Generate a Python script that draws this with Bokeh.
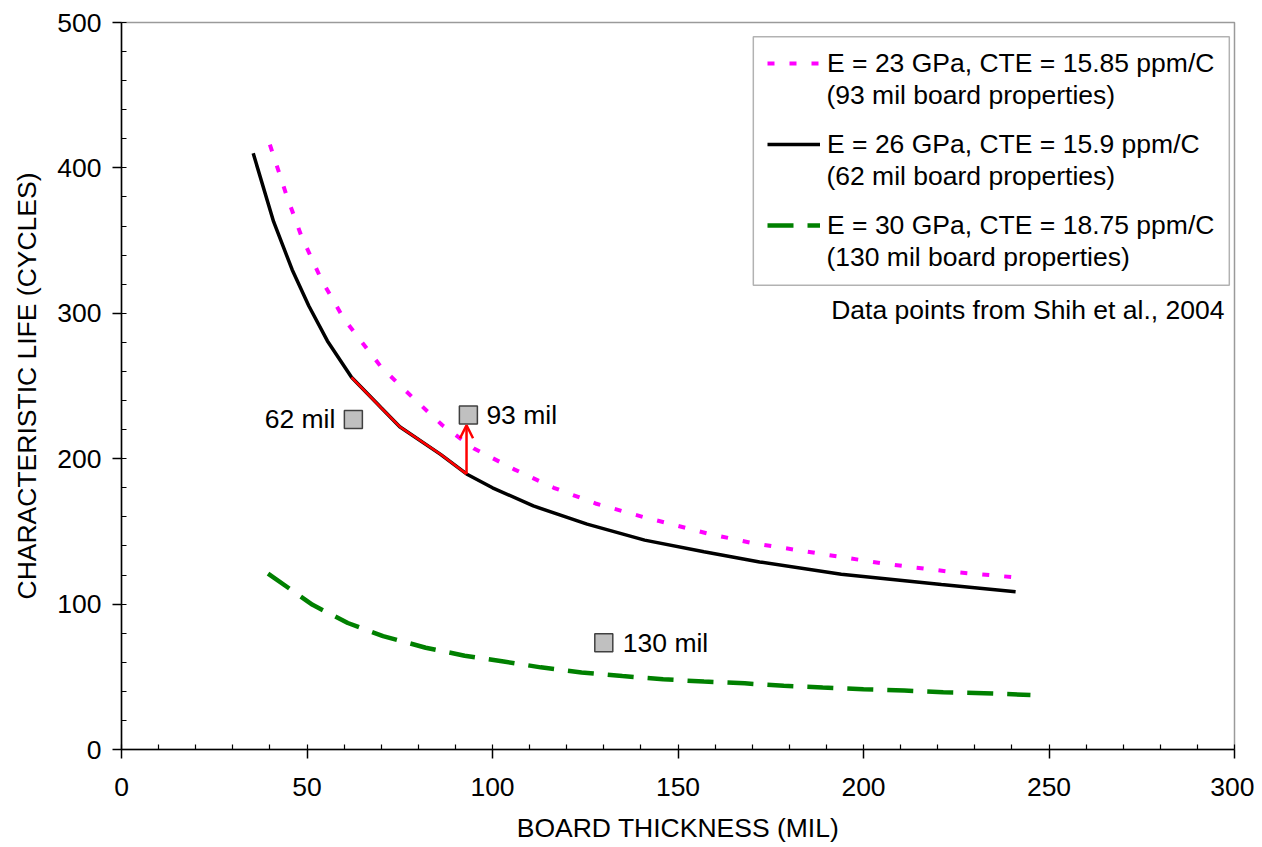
from bokeh.plotting import figure
from bokeh.models import (Range1d, FixedTicker, Legend, LegendItem, Arrow, OpenHead,
                          Label, ColumnDataSource, BoxAnnotation)
from bokeh.embed import file_html
from bokeh.resources import INLINE
from bokeh.core.properties import value

# ---- data ----
black_x = [35.5, 41, 46, 50.5, 55.5, 62, 70, 75, 86, 93, 100, 111, 125.5, 141, 157, 172, 194, 221, 241]
black_y = [410, 363, 330, 305, 281, 256, 235, 222, 203, 189.5, 180, 167.5, 155, 144, 136, 129, 120.5, 113.5, 108.5]

magenta_x = [40, 44.5, 48.5, 54, 60, 70, 78.5, 86.5, 95, 106, 116.5, 128, 140.5, 158, 170, 187.5, 205, 222.5, 240.5]
magenta_y = [416, 381, 353, 322.5, 296, 263, 242, 223, 207, 192.5, 180, 169, 160, 148.5, 142, 135, 128, 122.5, 118.5]

green_x = [39.5, 51.5, 61, 70.5, 82, 92.5, 103, 113, 124, 135, 146, 157, 168, 178.5, 189, 200, 211, 221.5, 232.5, 245]
green_y = [121, 99.5, 87, 78, 70, 64.5, 60.5, 56.5, 53, 50.5, 48.3, 46.7, 45.5, 43.8, 42.6, 41.4, 40.5, 39.4, 38.7, 37.5]

red_x = [62, 70, 75, 86, 93]
red_y = [256, 235, 222, 203, 189.5]

arrow_x = [93, 93]
arrow_y = [189.5, 223]

point_x = [62.5, 93.5, 130]
point_y = [227, 230, 73.5]
point_labels = ["62 mil", "93 mil", "130 mil"]
label_align = ["right", "left", "left"]
label_dx = [-18, 18, 19]

legend_first_lines = [
    "E = 23 GPa, CTE = 15.85 ppm/C",
    "E = 26 GPa, CTE = 15.9 ppm/C",
    "E = 30 GPa, CTE = 18.75 ppm/C",
]
legend_second_lines = [
    "(93 mil board properties)",
    "(62 mil board properties)",
    "(130 mil board properties)",
]
source_note = "Data points from Shih et al., 2004"

x_major = [0, 50, 100, 150, 200, 250, 300]
x_minor = list(range(0, 301, 10))
y_major = [0, 100, 200, 300, 400, 500]
y_minor = list(range(0, 501, 20))

FONT = "Liberation Sans"
FS = "26.5px"

p = figure(frame_width=1113, frame_height=727,
           x_range=Range1d(0, 300), y_range=Range1d(0, 500),
           output_backend="svg", toolbar_location=None,
           min_border_left=121, min_border_right=20, min_border_top=22, min_border_bottom=98)
p.background_fill_color = "white"
p.border_fill_color = "white"
p.outline_line_color = "#9a9a9a"
p.outline_line_width = 1.5
p.xgrid.visible = False
p.ygrid.visible = False

p.xaxis.ticker = FixedTicker(ticks=x_major, minor_ticks=x_minor)
p.yaxis.ticker = FixedTicker(ticks=y_major, minor_ticks=y_minor)
p.xaxis.axis_label = "BOARD THICKNESS (MIL)"
p.yaxis.axis_label = "CHARACTERISTIC LIFE (CYCLES)"
for ax in (p.xaxis[0], p.yaxis[0]):
    ax.axis_line_color = "black"
    ax.axis_line_width = 1.5
    ax.major_tick_line_color = "black"
    ax.minor_tick_line_color = "black"
    ax.major_tick_line_width = 1.5
    ax.minor_tick_line_width = 1.2
    ax.major_tick_out = 9
    ax.major_tick_in = 0
    ax.minor_tick_out = 0
    ax.minor_tick_in = 5
    ax.major_label_text_font = FONT
    ax.major_label_text_font_size = FS
    ax.major_label_text_color = "black"
    ax.axis_label_text_font = FONT
    ax.axis_label_text_font_size = FS
    ax.axis_label_text_font_style = "normal"
    ax.axis_label_text_color = "black"
p.xaxis.major_label_standoff = 19
p.xaxis.axis_label_standoff = 14
p.yaxis.major_label_standoff = 11
p.yaxis.axis_label_standoff = 12

r_mag = p.line(magenta_x, magenta_y, line_color="magenta", line_width=4, line_dash="7 15")
r_blk = p.line(black_x, black_y, line_color="black", line_width=3.5)
r_grn = p.line(green_x, green_y, line_color="green", line_width=4.5, line_dash="26 14")
p.line(red_x, red_y, line_color="red", line_width=2.5)

p.add_layout(Arrow(end=OpenHead(size=13, line_color="red", line_width=2.5),
                   x_start=arrow_x[0], y_start=arrow_y[0], x_end=arrow_x[1], y_end=arrow_y[1],
                   line_color="red", line_width=2.5))

p.scatter(point_x, point_y, marker="square", size=18, fill_color="#c0c0c0",
          line_color="#404040", line_width=1.5)
src = ColumnDataSource(dict(x=point_x, y=point_y, t=point_labels, a=label_align, dx=label_dx))
p.text(x="x", y="y", text="t", text_align="a", x_offset="dx", source=src,
       text_baseline="middle", text_font=value(FONT), text_font_size=FS, text_color="black")

# legend frame
p.add_layout(BoxAnnotation(left=170.3, right=298.6, top=490.2, bottom=319.3,
                           fill_alpha=0, line_color="black", line_width=1.5))

legend = Legend(items=[LegendItem(label=legend_first_lines[0], renderers=[r_mag]),
                       LegendItem(label=legend_first_lines[1], renderers=[r_blk]),
                       LegendItem(label=legend_first_lines[2], renderers=[r_grn])],
                location=(632, 494), orientation="vertical")
legend.label_text_font = FONT
legend.label_text_font_size = FS
legend.label_text_color = "black"
legend.glyph_width = 53
legend.glyph_height = 32
legend.label_height = 32
legend.label_standoff = 7
legend.padding = 14
legend.spacing = 49
legend.margin = 0
legend.border_line_alpha = 0
legend.background_fill_alpha = 0
p.add_layout(legend, "center")

second_line_x = 190.0
second_line_y = [449.8, 394.1, 338.4]
for txt, yy in zip(legend_second_lines, second_line_y):
    p.add_layout(Label(x=second_line_x, y=yy, text=txt, text_align="left", text_baseline="middle",
                       text_font=FONT, text_font_size=FS, text_color="black"))

p.add_layout(Label(x=297.3, y=302, text=source_note,
                   text_align="right", text_baseline="middle",
                   text_font=FONT, text_font_size=FS, text_color="black"))

open("out.html", "w").write(file_html(p, INLINE))
